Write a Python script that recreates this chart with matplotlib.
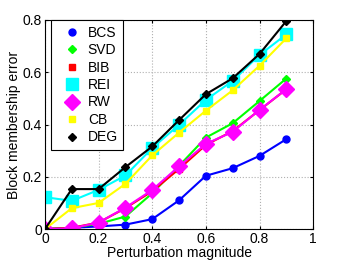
import numpy as np
import matplotlib
matplotlib.use("Agg")
import matplotlib.pyplot as plt

plt.rcParams['font.family'] = ['Liberation Sans', 'DejaVu Sans']

x = [0, 0.1, 0.2, 0.3, 0.4, 0.5, 0.6, 0.7, 0.8, 0.9]
bcs = [0, 0.005, 0.01, 0.017, 0.038, 0.11, 0.204, 0.233, 0.28, 0.344]
svd = [0, 0.005, 0.02, 0.048, 0.137, 0.242, 0.35, 0.405, 0.49, 0.576]
bib = [0, 0.005, 0.025, 0.08, 0.145, 0.23, 0.322, 0.375, 0.455, 0.535]
rei = [0.122, 0.108, 0.15, 0.205, 0.31, 0.399, 0.494, 0.567, 0.666, 0.745]
rw = [0, 0.003, 0.025, 0.082, 0.15, 0.24, 0.326, 0.372, 0.456, 0.535]
cb = [0, 0.08, 0.1, 0.173, 0.282, 0.369, 0.453, 0.531, 0.625, 0.73]
deg = [0, 0.153, 0.153, 0.237, 0.316, 0.417, 0.516, 0.577, 0.67, 0.796]

fig = plt.figure(figsize=(3.46, 2.63), dpi=100)
ax = fig.add_axes([0.130, 0.129, 0.775, 0.795])

ax.plot(x, bcs, color='#0000ff', marker='o', markersize=5, lw=1.5, label='BCS')
ax.plot(x, svd, color='#00ff00', marker='D', markersize=4, lw=1.5, label='SVD')
ax.plot(x, bib, color='#ff0000', marker='s', markersize=4, lw=1.5, label='BIB')
ax.plot(x, rei, color='#00ffff', marker='s', markersize=9, lw=1.5, label='REI')
ax.plot(x, rw, color='#ff00ff', marker='D', markersize=8, lw=1.5, label='RW')
ax.plot(x, cb, color='#ffff00', marker='s', markersize=4, lw=1.5, label='CB')
ax.plot(x, deg, color='#000000', marker='D', markersize=4.5, lw=1.5, label='DEG')

ax.set_xlim(0, 1)
ax.set_ylim(0, 0.8)
ax.set_xticks([0, 0.2, 0.4, 0.6, 0.8, 1])
ax.set_xticklabels(['0', '0.2', '0.4', '0.6', '0.8', '1'])
ax.set_yticks([0, 0.2, 0.4, 0.6, 0.8])
ax.set_yticklabels(['0', '0.2', '0.4', '0.6', '0.8'])
ax.tick_params(labelsize=10, direction='in', length=2, top=True, right=True, pad=2)
ax.grid(color='#b0b0b0', linestyle=':', linewidth=0.8)
ax.set_axisbelow(True)
ax.set_xlabel('Perturbation magnitude', fontsize=10, labelpad=0)
ax.set_ylabel('Block membership error', fontsize=10, labelpad=1)

leg = ax.legend(loc='upper left', bbox_to_anchor=(51 / 346, 1 - 20 / 263),
                bbox_transform=fig.transFigure, fontsize=10, fancybox=False,
                framealpha=1, edgecolor='black', handlelength=2.2, borderpad=0.4,
                labelspacing=0.25, handletextpad=0.05, borderaxespad=0)
for h in leg.legend_handles:
    h.set_linestyle('none')
leg.get_frame().set_linewidth(0.8)

plt.savefig('out.png', dpi=100)
